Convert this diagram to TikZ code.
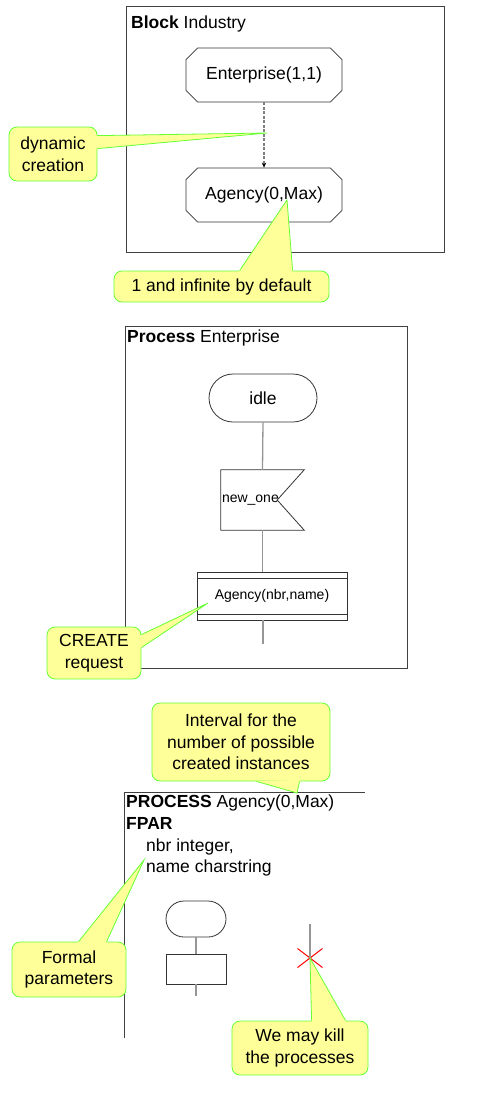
\documentclass[tikz,border=0pt]{standalone}
\usepackage{fontspec}
\setmainfont{Liberation Sans}
\usetikzlibrary{shapes.misc, arrows.meta, calc}
\definecolor{notefill}{RGB}{255,255,153}
\definecolor{noteline}{RGB}{102,255,51}
\definecolor{flowgray}{RGB}{150,150,150}
\newcommand{\bigtext}{\fontsize{17.5}{21.7}\selectfont}
\newcommand{\smalltext}{\fontsize{14}{17}\selectfont}
% pointer of a note: base point, base point, tip
\newcommand{\notetip}[3]{%
  \fill[notefill] ($(#1)!-1.5pt!(#3)$) -- (#3) -- ($(#2)!-1.5pt!(#3)$) -- cycle;
  \draw[noteline, line width=0.8pt] (#1) -- (#3) -- (#2);
}
\tikzset{
  >={Stealth[length=5pt,width=4pt]},
  frame/.style={draw=black!75, line width=0.8pt},
  title/.style={anchor=base west, inner sep=0pt, font=\bigtext},
  shapeline/.style={draw=black!80, line width=0.8pt},
  blockproc/.style={
    chamfered rectangle,
    chamfered rectangle xsep=11pt,
    chamfered rectangle angle=45,
    shapeline,
    minimum width=156pt,
    minimum height=54pt,
    inner sep=0pt,
    font=\bigtext},
  state/.style={
    rectangle,
    rounded corners=24pt,
    shapeline,
    minimum width=108pt,
    minimum height=48pt,
    font=\bigtext},
  sigin/.style={
    minimum width=83pt,
    minimum height=60pt,
    text width=81pt,
    inner sep=1pt,
    align=left,
    font=\smalltext},
  createbox/.style={
    shapeline,
    minimum width=150pt,
    minimum height=48pt,
    font=\smalltext,
    path picture={
      \draw[shapeline] ([yshift=-6pt]path picture bounding box.north west) -- ([yshift=-6pt]path picture bounding box.north east)
                       ([yshift=6pt]path picture bounding box.south west) -- ([yshift=6pt]path picture bounding box.south east);}},
  flow/.style={draw=flowgray, line width=1.3pt},
  create/.style={draw=black!50, line width=1.2pt, dash pattern=on 3pt off 1.5pt, -{Stealth[length=5pt,width=4.5pt,black]}},
  note/.style={
    rectangle,
    rounded corners=8pt,
    fill=notefill,
    draw=noteline, line width=0.8pt,
    align=center,
    inner sep=0pt,
    font=\bigtext},
}
\begin{document}
\begin{tikzpicture}[x=1pt, y=-1pt]
  \useasboundingbox (0,0) rectangle (500,1100);

  % Block Industry
  \draw[frame] (126,6) rectangle (444,252);
  \node[title] (blkTitle) at (131,28.5) {\textbf{Block} Industry};
  \node[blockproc] (ent) at (264,75)  {Enterprise(1,1)};
  \node[blockproc] (agc) at (264,195) {Agency(0,Max)};
  \draw[create] (ent.south) -- (agc.north);

  % Process Enterprise
  \draw[frame] (125,326) rectangle (407,668);
  \node[title] (prcTitle) at (127,342) {\textbf{Process} Enterprise};
  \node[state] (idle) at (263,398) {idle};
  \node[sigin] (newone) at (262.5,500) {new\_one};
  \draw[shapeline] (newone.north west) -- (newone.north east) -- ([xshift=-27pt]newone.east)
                   -- (newone.south east) -- (newone.south west) -- cycle;
  \node[createbox] (crt) at (272,596) {Agency(nbr,name)};
  \coordinate (entEnd) at (263,644);
  \draw[flow] (idle.south) -- (newone.north);
  \draw[flow] (newone.south) -- (newone.south |- crt.north);
  \draw[flow] (entEnd |- crt.south) -- (entEnd);

  % Process Agency
  \draw[frame] (365,792) -- (124,792) -- (124,1038);
  \node[anchor=north west, inner sep=0pt, align=left, font=\bigtext] (agcHead) at (126,795)
    {\textbf{PROCESS} Agency(0,Max)\\\textbf{FPAR}\\\hspace{20pt}nbr integer,\\\hspace{20pt}name charstring};
  \node[state, rounded corners=18pt, minimum width=60pt, minimum height=36pt] (start) at (196,919) {};
  \node[shapeline, minimum width=60pt, minimum height=30pt] (task) at (196,969) {};
  \coordinate (taskEnd) at (196,996);
  \draw[flow] (start.south) -- (task.north);
  \draw[flow] (task.south) -- (taskEnd);
  \coordinate (killTop) at (310,924);
  \node[cross out, draw=red, line width=1pt, minimum width=24pt, minimum height=18pt, inner sep=0pt] (kill) at (310,958) {};
  \draw[flow] (killTop) -- (kill.center);

  % notes
  \node[note, minimum width=88pt, minimum height=54pt] (dyn) at (53,154) {dynamic\\creation};
  \coordinate (dynTip) at (267,133);
  \coordinate (dynA) at ($(dyn.north east)+(0,-9pt)$);
  \coordinate (dynB) at ($(dyn.north east)+(0,-22pt)$);
  \notetip{dynA}{dynB}{dynTip}

  \node[note, minimum width=215pt, minimum height=31pt] (inf) at (221.5,286.5) {1 and infinite by default};
  \coordinate (infTip) at (287,200);
  \coordinate (infA) at ($(inf.north west)+(126pt,0)$);
  \coordinate (infB) at ($(inf.north west)+(179pt,0)$);
  \notetip{infA}{infB}{infTip}

  \node[note, minimum width=94pt, minimum height=52pt] (req) at (94,653) {CREATE\\request};
  \coordinate (reqTip) at (208,603);
  \coordinate (reqA) at ($(req.north east)+(0,-8pt)$);
  \coordinate (reqB) at ($(req.north east)+(0,-21pt)$);
  \notetip{reqA}{reqB}{reqTip}

  \node[note, minimum width=178pt, minimum height=78pt] (itv) at (241,742) {Interval for the\\number of possible\\created instances};
  \coordinate (itvTip) at (297,793);
  \coordinate (itvA) at ($(itv.south west)+(105pt,0)$);
  \coordinate (itvB) at ($(itv.south west)+(148pt,0)$);
  \notetip{itvA}{itvB}{itvTip}

  \node[note, minimum width=114pt, minimum height=55pt] (fpar) at (69,969.5) {Formal\\parameters};
  \coordinate (fparTip) at (144,860);
  \coordinate (fparA) at ($(fpar.north west)+(67pt,0)$);
  \coordinate (fparB) at ($(fpar.north west)+(95pt,0)$);
  \notetip{fparA}{fparB}{fparTip}

  \node[note, minimum width=136pt, minimum height=54pt] (kil) at (300,1048) {We may kill\\the processes};
  \coordinate (kilA) at ($(kil.north west)+(80pt,0)$);
  \coordinate (kilB) at ($(kil.north west)+(114pt,0)$);
  \notetip{kilA}{kilB}{kill.center}
\end{tikzpicture}
\end{document}
